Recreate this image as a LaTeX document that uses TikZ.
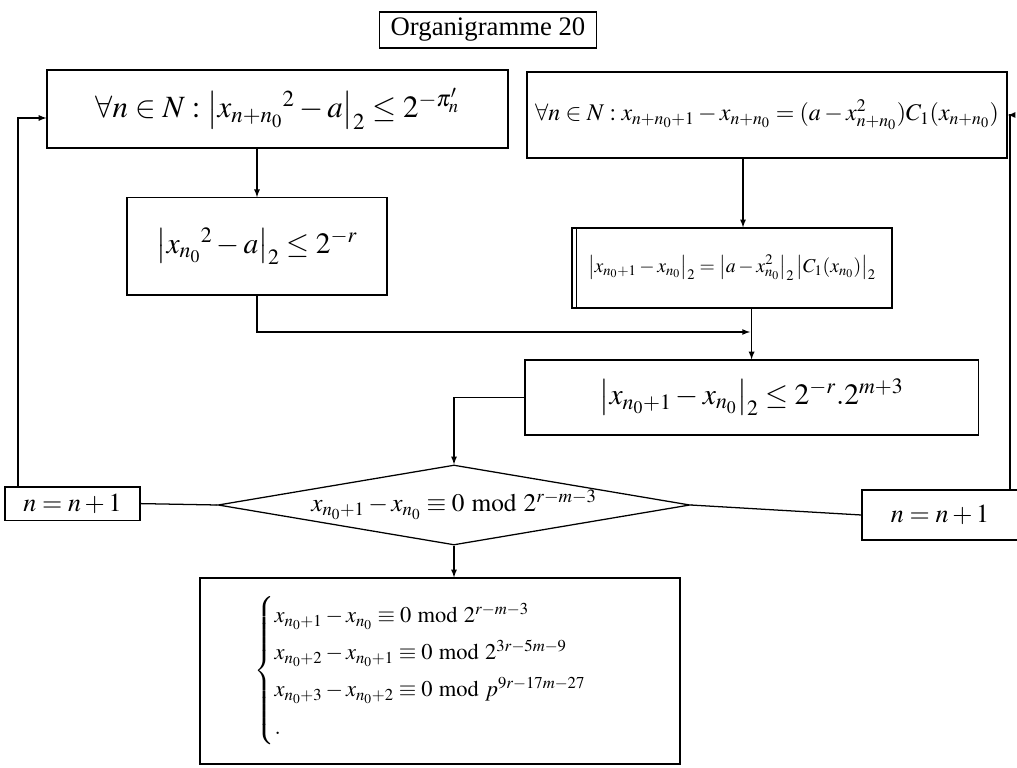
\documentclass[tikz,border=0pt]{standalone}
\usepackage{amsmath}
\usepackage{mathptmx}
\usepackage{fontspec}
\setmainfont{Liberation Serif}
\usetikzlibrary{positioning,shapes.geometric}

\begin{document}
\begin{tikzpicture}[
  box/.style={draw, line width=0.9pt, inner sep=2pt, align=center,
              font=\fontsize{21}{25}\selectfont},
  nbox/.style={draw, line width=0.9pt, inner sep=2pt,
               font=\fontsize{18.5}{22}\selectfont},
  decision/.style={draw, diamond, line width=0.9pt, inner sep=0pt, shape aspect=5.9,
                   minimum width=11.8cm, minimum height=2cm,
                   font=\fontsize{18}{22}\selectfont},
  arrow/.style={->, >=latex, line width=0.9pt},
  link/.style={line width=0.9pt}
]
  \useasboundingbox (0,0) rectangle (25.425,-19.2);

  \node[box, minimum width=5.43cm, minimum height=0.9cm,
        font=\fontsize{19}{22}\selectfont] (title) at (12.2,-0.75) {Organigramme 20};

  \node[box, minimum width=11.525cm, minimum height=1.95cm,
        font=\fontsize{22}{26}\selectfont] (forall) at (6.94,-2.725)
    {$\forall n\in N:\left|x_{n+n_0}{}^{2}-a\right|_2\le 2^{-\pi'_n}$};
  \node[box, minimum width=12cm, minimum height=2.15cm,
        font=\fontsize{17}{21}\selectfont] (recur) at (19.175,-2.875)
    {$\forall n\in N: x_{n+n_0+1}-x_{n+n_0}=(a-x^2_{n+n_0})C_1(x_{n+n_0})$};

  \node[box, minimum width=6.5cm, minimum height=2.43cm] (start) at (6.425,-6.16)
    {$\left|x_{n_0}{}^2-a\right|_2\le 2^{-r}$};
  \node[box, minimum width=8cm, minimum height=2cm,
        font=\fontsize{14}{17}\selectfont] (diff) at (18.3,-6.7)
    {$\left|x_{n_0+1}-x_{n_0}\right|_2=\left|a-x^2_{n_0}\right|_2\left|C_1(x_{n_0})\right|_2$};
  \draw[link] ([xshift=0.13cm]diff.north west) -- ([xshift=0.13cm]diff.south west);

  \node[box, minimum width=11.33cm, minimum height=1.875cm] (bound) at (18.79,-9.94)
    {$\left|x_{n_0+1}-x_{n_0}\right|_2\le 2^{-r}.2^{m+3}$};

  \node[decision] (test) at (11.35,-12.625)
    {$x_{n_0+1}-x_{n_0}\equiv 0\bmod 2^{r-m-3}$};

  \node[nbox, minimum width=3.375cm, minimum height=0.83cm] (incl) at (1.81,-12.59) {$n=n+1$};
  \node[nbox, minimum width=3.9cm, minimum height=1.25cm] (incr) at (23.5,-12.875) {$n=n+1$};

  \node[box, minimum width=12cm, minimum height=4.65cm,
        font=\fontsize{16}{22}\selectfont] (result) at (11,-16.775)
    {\renewcommand{\arraystretch}{1.55}%
     $\begin{cases}
       x_{n_0+1}-x_{n_0}\equiv 0\bmod 2^{r-m-3}\\
       x_{n_0+2}-x_{n_0+1}\equiv 0\bmod 2^{3r-5m-9}\\
       x_{n_0+3}-x_{n_0+2}\equiv 0\bmod p^{9r-17m-27}\\
       .
     \end{cases}$\hspace{0.4cm}};

  \coordinate (join) at (18.75,-8.3);

  \draw[arrow] (forall.south -| start.north) -- (start.north);
  \draw[arrow] ([xshift=0.275cm]diff.north |- recur.south) -- ([xshift=0.275cm]diff.north);
  \draw[arrow] (bound.north |- diff.south) -- (bound.north);
  \draw[arrow] (start.south) |- (join);
  \draw[arrow] (bound.west) -| (test.north);
  \draw[link] (test.west) -- (incl.east);
  \draw[link] (test.east) -- (incr.west);
  \draw[arrow] ([xshift=-1.36cm]incl.north) |- ([yshift=-0.225cm]forall.west);
  \draw[arrow] ([xshift=1.75cm]incr.north) |- (recur.east);
  \draw[arrow] (test.south) -- (test.south |- result.north);
\end{tikzpicture}
\end{document}
